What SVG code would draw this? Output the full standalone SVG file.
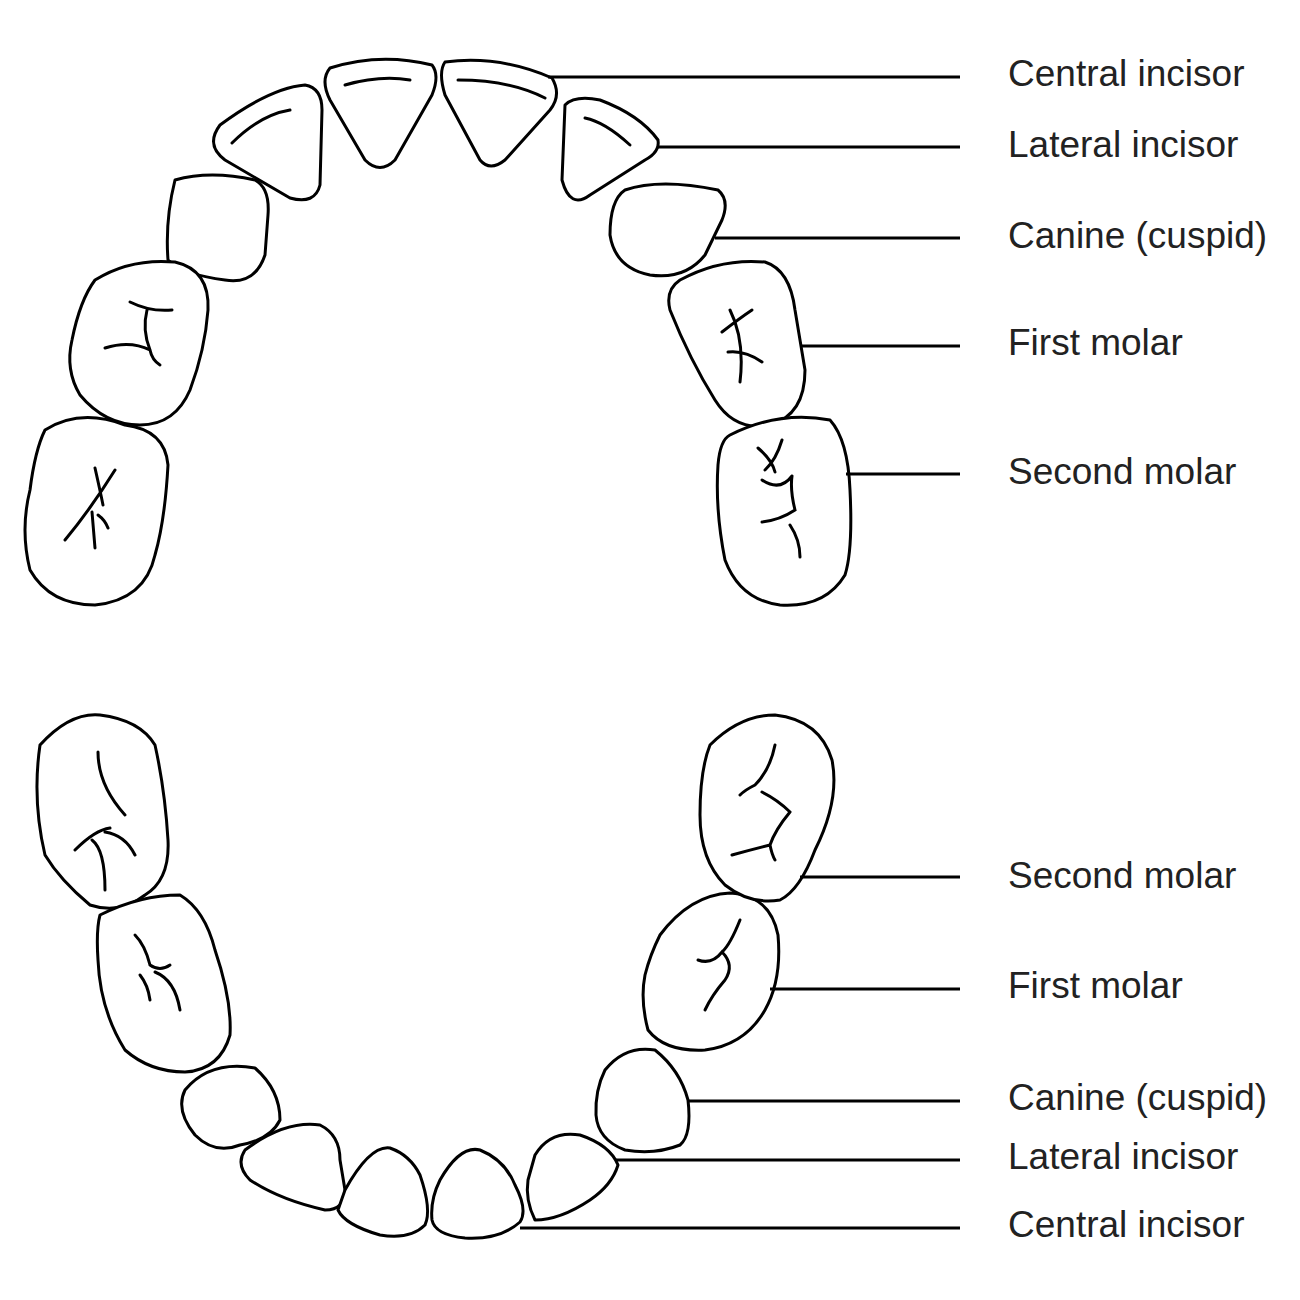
<svg xmlns="http://www.w3.org/2000/svg" width="1300" height="1300" viewBox="0 0 1300 1300">
<style>
.t{fill:#fff;stroke:#000;stroke-width:3;stroke-linejoin:round}
.f{fill:none;stroke:#000;stroke-width:3;stroke-linecap:round}
.l{stroke:#000;stroke-width:3}
text{font-family:"Liberation Sans",Arial,sans-serif;font-size:37px;fill:#222}
</style>
<rect width="1300" height="1300" fill="#fff"/>
<g id="upper">
<path class="t" d="M330,68 Q380,52 432,65 Q440,75 432,95 L395,160 Q380,175 365,160 L330,100 Q320,80 330,68 Z"/><path class="f" d="M345,85 Q380,75 410,80"/>
<path class="t" d="M445,62 Q500,55 552,78 Q562,95 550,110 L505,160 Q490,172 480,160 L445,95 Q438,72 445,62 Z"/><path class="f" d="M458,80 Q510,80 545,98"/>
<path class="t" d="M220,125 Q270,88 305,85 Q322,88 322,110 L320,185 Q315,205 290,198 L225,160 Q205,145 220,125 Z"/><path class="f" d="M232,143 Q260,115 290,110"/>
<path class="t" d="M565,105 Q575,95 600,100 Q640,115 658,140 Q660,152 645,160 L590,195 Q570,210 562,180 Z"/><path class="f" d="M585,118 Q605,122 630,145"/>
<path class="t" d="M175,180 Q210,170 255,180 Q270,188 268,215 L265,255 Q255,285 225,280 Q185,275 168,260 Q165,220 175,180 Z"/>
<path class="t" d="M625,190 Q660,178 718,190 Q730,200 722,220 L705,255 Q685,280 650,275 Q615,268 610,235 Q610,200 625,190 Z"/>
<path class="t" d="M95,280 Q130,258 175,262 Q210,270 208,310 Q205,350 190,390 Q175,425 140,425 Q105,425 80,395 Q65,370 72,340 Q80,300 95,280 Z"/>
<path class="f" d="M130,302 Q150,312 172,310 M147,310 Q142,330 150,350 M105,348 Q130,340 150,350 Q152,360 160,365"/>
<path class="t" d="M680,280 Q720,258 765,262 Q790,270 795,310 L805,370 Q805,415 770,425 Q735,432 715,400 Q690,360 670,310 Q665,290 680,280 Z"/>
<path class="f" d="M730,310 Q745,340 740,382 M722,332 Q740,318 752,310 M728,352 Q745,350 762,362"/>
<path class="t" d="M45,430 Q80,408 125,425 Q165,430 168,465 Q165,520 155,555 Q145,600 95,605 Q50,605 30,570 Q20,530 30,490 Q35,450 45,430 Z"/>
<path class="f" d="M65,540 Q90,510 115,470 M95,468 Q100,490 103,505 M92,512 L95,548 M98,515 Q105,520 108,528"/>
<path class="t" d="M730,435 Q780,410 830,420 Q848,440 850,490 Q853,550 845,575 Q825,608 780,605 Q740,600 725,560 Q715,510 718,465 Q720,440 730,435 Z"/>
<path class="f" d="M758,448 Q772,460 775,472 M782,440 Q776,460 765,470 M762,480 Q780,492 792,476 M762,522 Q780,520 795,510 Q790,490 792,476 M790,525 Q800,540 800,557"/>
</g>
<g id="lower">
<path class="t" d="M40,745 Q70,712 100,715 Q140,720 155,745 Q165,790 168,840 Q170,880 145,895 Q120,915 90,905 Q60,880 45,855 Q32,800 40,745 Z"/>
<path class="f" d="M98,752 Q98,785 125,815 M75,850 Q95,830 110,828 M92,840 Q105,850 105,890 M105,832 Q125,835 135,855"/>
<path class="t" d="M100,915 Q140,895 180,895 Q205,910 215,950 Q232,1000 230,1035 Q220,1070 185,1072 Q150,1072 125,1050 Q100,1010 98,960 Q96,930 100,915 Z"/>
<path class="f" d="M135,935 Q145,945 150,965 M150,965 Q160,972 170,965 M140,975 Q148,985 150,1000 M155,972 Q175,980 180,1010"/>
<path class="t" d="M185,1090 Q210,1060 255,1068 Q280,1090 280,1120 Q270,1140 240,1145 Q215,1155 195,1135 Q175,1110 185,1090 Z"/>
<path class="t" d="M245,1150 Q285,1120 320,1125 Q340,1135 340,1160 L345,1190 Q345,1210 325,1210 Q280,1200 250,1180 Q235,1165 245,1150 Z"/>
<path class="t" d="M345,1190 Q370,1145 390,1148 Q410,1155 420,1175 Q432,1210 425,1225 Q410,1240 380,1235 Q345,1225 338,1210 Z"/>
<path class="t" d="M440,1180 Q460,1145 480,1150 Q505,1160 515,1185 Q528,1210 520,1222 Q500,1240 465,1238 Q435,1235 432,1220 Q430,1200 440,1180 Z"/>
<path class="t" d="M535,1155 Q550,1130 580,1135 Q610,1145 618,1165 Q612,1185 590,1200 Q560,1220 535,1220 Q525,1200 528,1180 Z"/>
<path class="t" d="M605,1070 Q625,1045 655,1050 Q680,1070 688,1100 Q692,1135 680,1145 Q655,1155 625,1150 Q598,1140 596,1115 Q595,1090 605,1070 Z"/>
<path class="t" d="M660,935 Q690,895 730,893 Q770,895 778,935 Q782,980 765,1010 Q745,1045 705,1050 Q665,1052 648,1030 Q640,1000 645,975 Q650,955 660,935 Z"/>
<path class="f" d="M740,920 Q730,945 722,952 M698,960 Q712,965 722,952 Q735,965 725,980 M725,980 Q712,995 705,1010"/>
<path class="t" d="M710,745 Q740,715 775,715 Q820,720 832,760 Q840,800 815,850 Q800,890 780,900 Q750,905 725,885 Q700,860 700,815 Q700,770 710,745 Z"/>
<path class="f" d="M775,745 Q770,770 755,785 Q745,790 740,795 M762,792 Q778,800 790,812 M790,812 Q775,830 770,845 Q750,850 732,855 M770,845 Q772,855 775,860"/>
</g>
<g id="connectors">
<line class="l" x1="548" y1="77" x2="960" y2="77"/>
<line class="l" x1="658" y1="147" x2="960" y2="147"/>
<line class="l" x1="715" y1="238" x2="960" y2="238"/>
<line class="l" x1="800" y1="346" x2="960" y2="346"/>
<line class="l" x1="846" y1="474" x2="960" y2="474"/>
<line class="l" x1="800" y1="877" x2="960" y2="877"/>
<line class="l" x1="770" y1="989" x2="960" y2="989"/>
<line class="l" x1="688" y1="1101" x2="960" y2="1101"/>
<line class="l" x1="615" y1="1160" x2="960" y2="1160"/>
<line class="l" x1="520" y1="1228" x2="960" y2="1228"/>
</g>
<g id="labels">
<text x="1008" y="86">Central incisor</text>
<text x="1008" y="157">Lateral incisor</text>
<text x="1008" y="248">Canine (cuspid)</text>
<text x="1008" y="355">First molar</text>
<text x="1008" y="484">Second molar</text>
<text x="1008" y="888">Second molar</text>
<text x="1008" y="998">First molar</text>
<text x="1008" y="1110">Canine (cuspid)</text>
<text x="1008" y="1169">Lateral incisor</text>
<text x="1008" y="1237">Central incisor</text>
</g>
</svg>
